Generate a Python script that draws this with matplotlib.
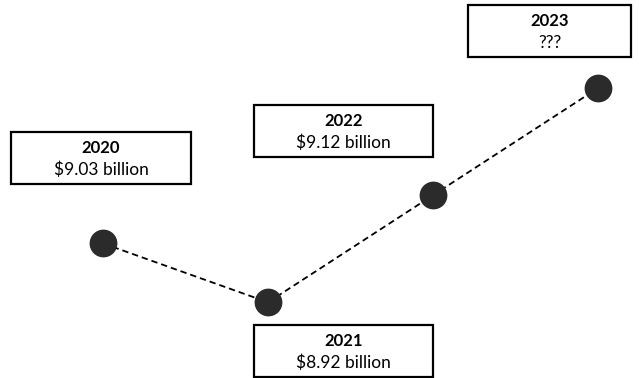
import matplotlib.pyplot as plt
from matplotlib.patches import Rectangle

years = [2020, 2021, 2022, 2023]
revenue = [9.03, 8.92, 9.12, 9.32]  # 2023 is an estimate, shown as ???
labels = ["$9.03 billion", "$8.92 billion", "$9.12 billion", "???"]

# label boxes in pixel units: left, top, width, height
boxes = [(11, 132, 180, 52), (254, 325, 179, 52), (254, 105, 179, 52), (468, 5, 163, 52)]

W, H = 639, 378
plt.rcParams['font.family'] = ['Lato', 'DejaVu Sans']
fig = plt.figure(figsize=(W / 100, H / 100), dpi=100)
ax = fig.add_axes([0, 0, 1, 1])
ax.set_xlim(2019.376, 2023.248)
ax.set_ylim(8.7787, 9.4844)
ax.axis('off')

ax.plot(years, revenue, linestyle=(0, (3.5, 2.2)), color='black', lw=1.3, zorder=1)
ax.plot(years, revenue, 'o', color='#2b2b2b', markersize=19, zorder=2)

for (bx, by, bw, bh), yr, lab in zip(boxes, years, labels):
    rect = Rectangle((bx / W, 1 - (by + bh) / H), bw / W, bh / H, transform=ax.transAxes,
                     facecolor='white', edgecolor='black', lw=1.6, zorder=3, clip_on=False)
    ax.add_patch(rect)
    cx = (bx + bw / 2) / W
    ax.text(cx, 1 - (by + 16) / H, str(yr), transform=ax.transAxes, ha='center', va='center',
            fontsize=12, fontweight='bold', zorder=4)
    ax.text(cx, 1 - (by + 38) / H, lab, transform=ax.transAxes, ha='center', va='center',
            fontsize=12.5, zorder=4)

fig.savefig('out.png', dpi=100)
